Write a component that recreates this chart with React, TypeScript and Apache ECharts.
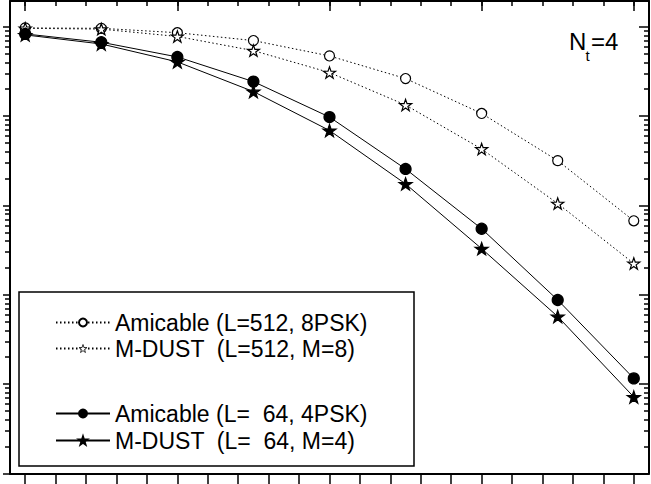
import * as echarts from 'echarts';
import { useEffect, useRef } from 'react';

// SNR points (dB) and error rates
const snr = [0, 2.5, 5, 7.5, 10, 12.5, 15, 17.5, 20];
const amicable512 = [0.97, 0.96, 0.857, 0.7, 0.471, 0.263, 0.107, 0.0317, 0.00673];
const mdust512 = [0.96, 0.94, 0.778, 0.54, 0.307, 0.133, 0.0428, 0.0105, 0.00224];
const amicable64 = [0.83, 0.67, 0.459, 0.243, 0.0975, 0.0256, 0.00548, 0.000875, 0.000116];
const mdust64 = [0.81, 0.641, 0.404, 0.188, 0.069, 0.0174, 0.00328, 0.000571, 0.0000718];

const seriesNames = [
  'Amicable (L=512, 8PSK)',
  'M-DUST  (L=512, M=8)',
  'Amicable (L=  64, 4PSK)',
  'M-DUST  (L=  64, M=4)',
];

// tick positions
const xMajorTicks = [0, 5, 10, 15, 20];
const xMinorTicks = [0, 1, 2, 3, 4, 5, 6, 7, 8, 9, 10, 11, 12, 13, 14, 15, 16, 17, 18, 19, 20];
const yMajorTicks = [1e-5, 1e-4, 1e-3, 1e-2, 1e-1, 1];
const yMinorTicks = yMajorTicks.slice(0, 5).flatMap((d) => [2, 3, 4, 5, 6, 7, 8, 9].map((k) => +(k * d).toPrecision(3)));

const STAR =
  'path://M50,0 L61.8,35.1 L98.1,35.1 L68.8,56.7 L79.4,91 L50,70 L20.6,91 L31.2,56.7 L1.9,35.1 L38.2,35.1 Z';
const FONT = '"Liberation Sans", Arial, Helvetica, sans-serif';

const App = () => {
  const chartRef = useRef(null);

  useEffect(() => {
    document.body.style.margin = '0';
    const chart = echarts.init(chartRef.current, null, { renderer: 'svg' });

    const xBase = {
      type: 'value',
      min: -0.5,
      max: 20.5,
      axisLabel: { show: false },
      splitLine: { show: false },
    };
    const yBase = {
      type: 'log',
      logBase: 10,
      min: 1e-5,
      max: 1.94,
      axisLabel: { show: false },
      splitLine: { show: false },
      minorTick: { show: false },
    };
    const frameLine = { show: true, onZero: false, lineStyle: { color: '#000', width: 2 } };
    const noLine = { show: false, onZero: false };
    const tick = (values, length, inside) => ({
      show: true,
      inside,
      length,
      customValues: values,
      lineStyle: { color: '#000', width: 1.5 },
    });

    const line = (name, data, dotted, symbol, filled, size) => ({
      name,
      type: 'line',
      data: snr.map((x, i) => [x, data[i]]),
      symbol,
      symbolSize: size,
      symbolKeepAspect: true,
      showSymbol: true,
      lineStyle: { color: '#000', width: 1, type: dotted ? [1.5, 2.5] : 'solid' },
      itemStyle: { color: filled ? '#000' : '#fff', borderColor: '#000', borderWidth: 1.2 },
      z: 3,
    });

    const legendBase = {
      orient: 'vertical',
      left: 55,
      padding: 0,
      itemWidth: 54,
      itemHeight: 10,
      selectedMode: false,
      textStyle: { fontFamily: FONT, fontSize: 23, color: '#000', lineHeight: 23 },
    };

    const option = {
      animation: false,
      grid: { left: 10, right: 2, top: 1, bottom: 10.5 },
      xAxis: [
        { ...xBase, position: 'bottom', axisLine: frameLine, axisTick: tick(xMinorTicks, 12, false) },
        { ...xBase, position: 'top', axisLine: frameLine, axisTick: tick(xMajorTicks, 10, true) },
        { ...xBase, position: 'top', axisLine: noLine, axisTick: tick(xMinorTicks, 5, true) },
      ],
      yAxis: [
        { ...yBase, position: 'left', axisLine: frameLine, axisTick: tick(yMajorTicks, 7, false) },
        { ...yBase, position: 'left', axisLine: noLine, axisTick: tick(yMinorTicks, 5, false) },
        { ...yBase, position: 'right', axisLine: frameLine, axisTick: tick(yMajorTicks, 10, true) },
        { ...yBase, position: 'right', axisLine: noLine, axisTick: tick(yMinorTicks, 5, true) },
      ],
      legend: [
        {
          ...legendBase,
          top: 311,
          itemGap: 3,
          data: [
            { name: seriesNames[0] },
            { name: seriesNames[1], itemStyle: { borderWidth: 0.8 } },
          ],
        },
        { ...legendBase, top: 402, itemGap: 4, data: seriesNames.slice(2, 4) },
      ],
      graphic: [
        {
          type: 'rect',
          shape: { x: 19, y: 292, width: 395, height: 174 },
          style: { fill: 'none', stroke: '#000', lineWidth: 1.5 },
          z: 1,
        },
        {
          type: 'text',
          x: 569,
          y: 41,
          style: { text: 'N', fontSize: 24, fontFamily: FONT, fill: '#000', verticalAlign: 'middle' },
        },
        {
          type: 'text',
          x: 585.5,
          y: 55,
          style: { text: 't', fontSize: 15, fontFamily: FONT, fill: '#000', verticalAlign: 'middle' },
        },
        {
          type: 'text',
          x: 591,
          y: 41,
          style: { text: '=4', fontSize: 24, fontFamily: FONT, fill: '#000', verticalAlign: 'middle' },
        },
      ],
      series: [
        line(seriesNames[0], amicable512, true, 'circle', false, 10),
        line(seriesNames[1], mdust512, true, STAR, false, 12),
        line(seriesNames[2], amicable64, false, 'circle', true, 11),
        line(seriesNames[3], mdust64, false, STAR, true, 13),
      ],
    };

    chart.setOption(option);

    return () => {
      chart.dispose();
    };
  }, []);

  return <div ref={chartRef} style={{ width: '651px', height: '484px' }} />;
};

export default App;
